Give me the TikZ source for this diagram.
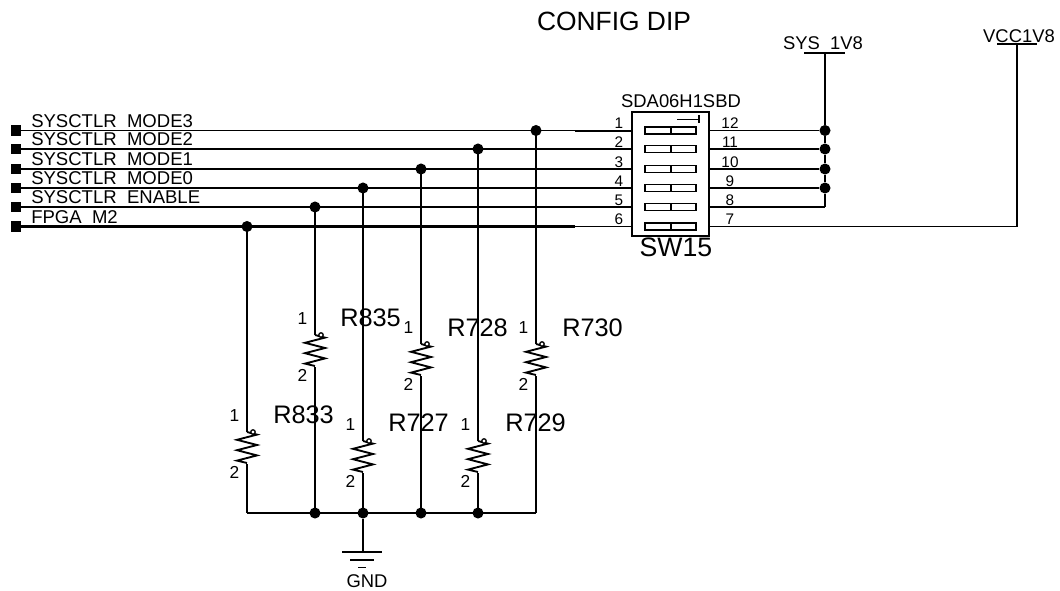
\documentclass[tikz,border=0pt]{standalone}
\usepackage{fontspec}
\setmainfont{Liberation Sans}
\newcommand{\Fs}[1]{\fontsize{#1}{#1}\selectfont}
\tikzset{
  x=0.75pt,y=-0.75pt,
  wire/.style={draw=black,line width=1.6pt},
  thickwire/.style={draw=black,line width=2.2pt},
  thinwire/.style={draw=black,line width=1.1pt},
  part/.style={draw=black,line width=1.3pt,fill=white},
  junction/.style={circle,fill=black,inner sep=0pt,minimum size=8.3pt},
  port/.style={rectangle,fill=black,inner sep=0pt,minimum size=7.8pt},
  sig/.style={inner sep=0pt,anchor=base west,font=\Fs{13.9}},
  pin/.style={inner sep=0pt,anchor=base,font=\Fs{11.5}},
  big/.style={inner sep=0pt,anchor=base west,font=\Fs{19}},
  small/.style={inner sep=0pt,anchor=base,font=\Fs{13.8}},
  res/.pic={
    \draw[line width=1.4pt,line join=miter]
      (0,0)--(10,2.6)--(-10,7.8)--(10,13)--(-10,18.2)--(10,23.4)--(-10,28.6)--(0,31);
    \draw[line width=1pt,fill=white] (6,0) circle (2.2);
  }
}
\begin{document}
\begin{tikzpicture}
\useasboundingbox (0,0) rectangle (1060,590);
\node[inner sep=0pt,anchor=base,font=\Fs{19.8}] (title) at (614,30) {CONFIG DIP};

% switch
\node[draw=black,line width=1.3pt,minimum width=57.75pt,minimum height=93pt,inner sep=0pt] (sw) at (670.5,174) {};
\node[small] (swt) at (681,107) {SDA06H1SBD};
\node[inner sep=0pt,anchor=base,font=\Fs{20}] (swn) at (676,256) {SW15};
\draw[line width=1.3pt] (677,119.5)--(699,119.5);
\draw[line width=1.3pt] (699,115)--(699,123);

% rows: left outer width, left inner width, right outer width
\foreach \n/\y/\l/\r/\wa/\wb/\wc/\lab in {
 0/130.5/1/12/1.4/1.5/1.3/SYSCTLR\ \ MODE3,
 1/149/2/11/2.0/1.2/2.0/SYSCTLR\ \ MODE2,
 2/169/3/10/1.4/1.4/1.4/SYSCTLR\ \ MODE1,
 3/188/4/9/2.0/1.2/1.4/SYSCTLR\ \ MODE0,
 4/207/5/8/2.0/1.2/2.0/SYSCTLR\ \ ENABLE,
 5/226.5/6/7/1.6/1.4/1.3/FPGA\ \ M2}{
  \node[port] (p\n) at (16,\y) {};
  \coordinate (l\n) at (632,\y);
  \coordinate (m\n) at (575,\y);
  \coordinate (r\n) at (709,\y);
  \coordinate (s\n) at (767,\y);
  \draw[draw=black,line width=\wa pt] (p\n) -- (m\n);
  \draw[draw=black,line width=\wb pt] (m\n) -- (l\n);
  \draw[draw=black,line width=1.2pt] (r\n) -- (s\n);
  \node[sig] (lab\n) at (31,\y-3.5) {\lab};
  \node[pin] (pl\n) at (619,\y-2) {\l};
  \node[pin] (pr\n) at (730,\y-2) {\r};
  \draw[part] (645,\y-3.5) rectangle (696,\y+3.5);
  \draw[line width=1.3pt] (671,\y-3.5)--(671,\y+3.5);
}

% right side
\coordinate (sys) at (825,53);
\coordinate (sysm) at (825,72);
\coordinate (vcc) at (1017,44);
\coordinate (bot) at (825,207);
\foreach \n/\w in {0/1.4,1/2.0,2/1.4,3/1.4} {
  \node[junction] (jr\n) at (s\n-|sys) {};
  \draw[draw=black,line width=\w pt] (s\n) -- (jr\n);
}
\draw[thinwire] (sys) -- (sysm);
\draw[thickwire] (sysm) -- (jr0);
\draw[thickwire] (jr0) -- (jr1);
\draw[thickwire] (jr1) -- (jr2);
\draw[thickwire] (jr2) -- (jr3);
\draw[thickwire] (jr3) -- (bot);
\draw[draw=black,line width=2pt] (s4) -- (bot);
\draw[draw=black,line width=1.2pt] (804,53)--(845,53);
\draw[draw=black,line width=1.2pt] (997,44)--(1037,44);
\coordinate (corner7) at (s5-|vcc);
\draw[draw=black,line width=1.4pt] (s5) -- (corner7) -- (vcc);
\node[small] (syst) at (823,49) {SYS\ \ 1V8};
\node[small] (vcct) at (1019,42) {VCC1V8};

% resistors
\coordinate (gndbus) at (247,513);
\foreach \n/\x/\row/\top/\w in {
 a/247/5/432/2.2,
 b/315/4/335/1.5,
 c/363/3/441/2.2,
 d/421/2/344/2.2,
 e/478/1/441/1.5,
 f/536/0/344/2.2}{
  \coordinate (jt\n) at (\x,\top);
  \coordinate (je\n) at (\x,\top+32);
  \draw[draw=black,line width=\w pt] (l\row-|jt\n) -- (\x,\top-24);
  \draw[thinwire] (\x,\top-24) -- (jt\n);
  \pic at (jt\n) {res};
  \draw[thinwire] (je\n) -- (\x,\top+53);
  \draw[draw=black,line width=\w pt] (\x,\top+53) -- (\x,513);
  \node[inner sep=0pt,anchor=base,font=\Fs{13}] (n1\n) at (\x-12.5,\top-11) {1};
  \node[inner sep=0pt,anchor=base,font=\Fs{13}] (n2\n) at (\x-12.5,\top+46) {2};
}
\foreach \n/\row in {a/5,b/4,c/3,d/2,e/1,f/0}
  \node[junction] (jw\n) at (l\row-|jt\n) {};
\foreach \n in {b,c,d,e}
  \node[junction] (jb\n) at (jt\n|-gndbus) {};
\draw[wire] (gndbus) -- (jtf|-gndbus);
\node[big] (ra) at (273,423) {R833};
\node[big] (rb) at (340,326.5) {R835};
\node[big] (rc) at (388,431.5) {R727};
\node[big] (rd) at (447,336) {R728};
\node[big] (re) at (505,431.5) {R729};
\node[big] (rf) at (562,336) {R730};

% ground
\coordinate (gnd) at (363,552);
\coordinate (gndm) at (363,533);
\draw[thickwire] (jbc) -- (gndm);
\draw[thinwire] (gndm) -- (gnd);
\draw[thinwire] (342,552)--(382,552);
\draw[thinwire] (350,560)--(374,560);
\draw[thinwire] (358,567.5)--(366,567.5);
\node[small] (gndt) at (367,587) {GND};
\end{tikzpicture}
\end{document}
